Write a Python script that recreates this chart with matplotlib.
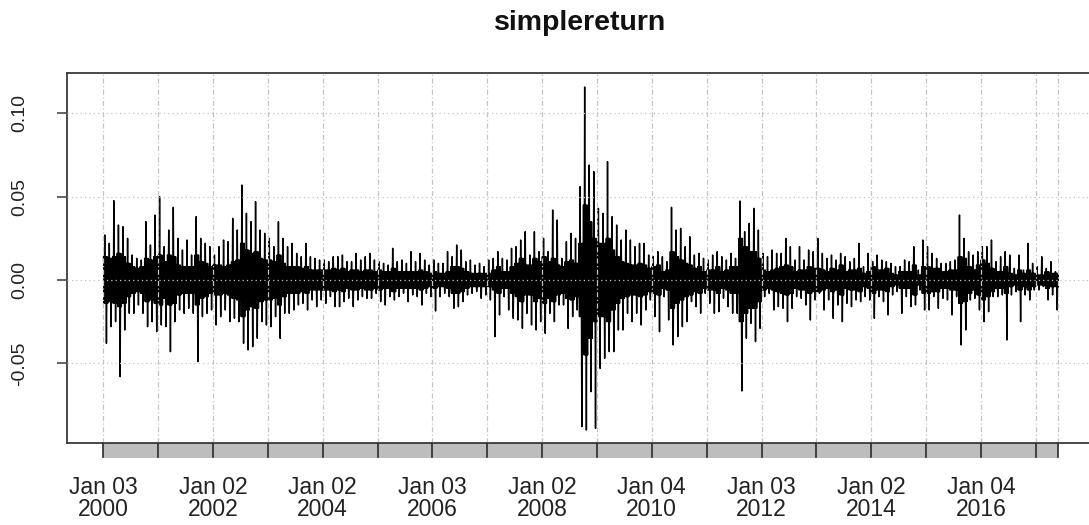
import matplotlib
matplotlib.use("Agg")
import matplotlib.pyplot as plt
from matplotlib.transforms import blended_transform_factory
from matplotlib.patches import Rectangle

# ---------------- data ----------------
start_year = 2000
# monthly highest and lowest daily simple return
max_2000 = [0.027, 0.022, 0.0476, 0.033, 0.032, 0.025, 0.015, 0.013, 0.012, 0.035, 0.021, 0.039]
min_2000 = [-0.038, -0.028, -0.025, -0.058, -0.030, -0.020, -0.020, -0.015, -0.020, -0.028, -0.025, -0.031]
max_2001 = [0.050, 0.020, 0.030, 0.0436, 0.025, 0.018, 0.024, 0.015, 0.038, 0.025, 0.022, 0.020]
min_2001 = [-0.027, -0.028, -0.043, -0.025, -0.018, -0.020, -0.017, -0.020, -0.049, -0.022, -0.020, -0.018]
max_2002 = [0.015, 0.020, 0.024, 0.023, 0.037, 0.030, 0.057, 0.040, 0.035, 0.047, 0.030, 0.028]
min_2002 = [-0.027, -0.022, -0.018, -0.025, -0.023, -0.025, -0.038, -0.042, -0.040, -0.035, -0.025, -0.027]
max_2003 = [0.025, 0.020, 0.035, 0.025, 0.020, 0.022, 0.016, 0.014, 0.022, 0.014, 0.013, 0.012]
min_2003 = [-0.028, -0.022, -0.035, -0.020, -0.020, -0.018, -0.015, -0.014, -0.018, -0.012, -0.016, -0.012]
max_2004 = [0.012, 0.011, 0.014, 0.014, 0.015, 0.011, 0.011, 0.016, 0.012, 0.014, 0.016, 0.012]
min_2004 = [-0.014, -0.010, -0.016, -0.016, -0.013, -0.011, -0.016, -0.012, -0.010, -0.011, -0.011, -0.008]
max_2005 = [0.011, 0.010, 0.009, 0.019, 0.011, 0.012, 0.010, 0.017, 0.011, 0.016, 0.012, 0.009]
min_2005 = [-0.013, -0.015, -0.010, -0.012, -0.010, -0.008, -0.013, -0.009, -0.010, -0.015, -0.008, -0.010]
max_2006 = [0.012, 0.010, 0.010, 0.017, 0.014, 0.021, 0.018, 0.011, 0.012, 0.009, 0.010, 0.008]
min_2006 = [-0.0186, -0.010, -0.008, -0.010, -0.017, -0.016, -0.013, -0.009, -0.008, -0.007, -0.011, -0.009]
max_2007 = [0.012, 0.013, 0.017, 0.013, 0.012, 0.019, 0.020, 0.024, 0.029, 0.015, 0.029, 0.017]
min_2007 = [-0.012, -0.034, -0.021, -0.010, -0.018, -0.023, -0.024, -0.029, -0.020, -0.027, -0.030, -0.025]
max_2008 = [0.025, 0.017, 0.042, 0.036, 0.013, 0.023, 0.028, 0.025, 0.056, 0.1158, 0.069, 0.065]
min_2008 = [-0.032, -0.020, -0.025, -0.015, -0.015, -0.029, -0.022, -0.018, -0.088, -0.090, -0.067, -0.089]
max_2009 = [0.043, 0.040, 0.071, 0.038, 0.033, 0.024, 0.030, 0.024, 0.020, 0.022, 0.022, 0.015]
min_2009 = [-0.053, -0.047, -0.043, -0.043, -0.030, -0.030, -0.020, -0.025, -0.020, -0.027, -0.018, -0.012]
max_2010 = [0.014, 0.017, 0.014, 0.011, 0.0436, 0.030, 0.031, 0.020, 0.026, 0.015, 0.016, 0.013]
min_2010 = [-0.022, -0.031, -0.010, -0.024, -0.039, -0.034, -0.028, -0.025, -0.013, -0.016, -0.020, -0.008]
max_2011 = [0.012, 0.015, 0.017, 0.014, 0.012, 0.016, 0.013, 0.0474, 0.029, 0.034, 0.043, 0.030]
min_2011 = [-0.014, -0.020, -0.019, -0.011, -0.016, -0.020, -0.020, -0.0666, -0.035, -0.026, -0.037, -0.029]
max_2012 = [0.016, 0.014, 0.018, 0.016, 0.016, 0.025, 0.020, 0.012, 0.020, 0.012, 0.018, 0.017]
min_2012 = [-0.010, -0.008, -0.018, -0.016, -0.017, -0.025, -0.017, -0.010, -0.011, -0.015, -0.024, -0.012]
max_2013 = [0.025, 0.016, 0.013, 0.015, 0.012, 0.016, 0.014, 0.011, 0.013, 0.022, 0.008, 0.016]
min_2013 = [-0.008, -0.018, -0.012, -0.023, -0.015, -0.025, -0.014, -0.016, -0.012, -0.013, -0.010, -0.012]
max_2014 = [0.011, 0.015, 0.012, 0.011, 0.010, 0.008, 0.008, 0.012, 0.011, 0.020, 0.006, 0.024]
min_2014 = [-0.023, -0.010, -0.013, -0.021, -0.009, -0.007, -0.020, -0.010, -0.016, -0.015, -0.006, -0.018]
max_2015 = [0.020, 0.016, 0.013, 0.010, 0.010, 0.011, 0.012, 0.039, 0.025, 0.017, 0.015, 0.017]
min_2015 = [-0.018, -0.010, -0.017, -0.011, -0.012, -0.021, -0.010, -0.039, -0.030, -0.012, -0.011, -0.018]
max_2016 = [0.020, 0.020, 0.024, 0.011, 0.014, 0.017, 0.015, 0.007, 0.015, 0.006, 0.022, 0.010]
min_2016 = [-0.025, -0.019, -0.010, -0.010, -0.009, -0.036, -0.009, -0.007, -0.025, -0.009, -0.012, -0.006]
max_2017 = [0.008, 0.014, 0.007, 0.011, 0.005]
min_2017 = [-0.006, -0.004, -0.012, -0.009, -0.018]

# half-width of the solid black band of ordinary days, per month
core_2000 = [0.014, 0.013, 0.014, 0.016, 0.014, 0.010, 0.008, 0.007, 0.008, 0.013, 0.012, 0.014]
core_2001 = [0.015, 0.011, 0.015, 0.014, 0.009, 0.008, 0.008, 0.008, 0.015, 0.011, 0.010, 0.008]
core_2002 = [0.009, 0.009, 0.008, 0.009, 0.011, 0.012, 0.022, 0.018, 0.016, 0.017, 0.013, 0.012]
core_2003 = [0.012, 0.011, 0.015, 0.010, 0.008, 0.008, 0.008, 0.007, 0.008, 0.006, 0.006, 0.006]
core_2004 = [0.006, 0.006, 0.007, 0.006, 0.007, 0.005, 0.006, 0.006, 0.005, 0.006, 0.006, 0.005]
core_2005 = [0.006, 0.005, 0.005, 0.007, 0.005, 0.005, 0.005, 0.005, 0.005, 0.006, 0.005, 0.004]
core_2006 = [0.005, 0.004, 0.004, 0.005, 0.008, 0.008, 0.007, 0.005, 0.004, 0.004, 0.004, 0.004]
core_2007 = [0.004, 0.006, 0.008, 0.005, 0.005, 0.008, 0.010, 0.013, 0.009, 0.009, 0.013, 0.011]
core_2008 = [0.014, 0.011, 0.013, 0.009, 0.008, 0.011, 0.012, 0.010, 0.022, 0.045, 0.035, 0.025]
core_2009 = [0.022, 0.022, 0.025, 0.018, 0.014, 0.011, 0.010, 0.009, 0.009, 0.010, 0.009, 0.007]
core_2010 = [0.008, 0.009, 0.005, 0.006, 0.017, 0.014, 0.012, 0.010, 0.009, 0.007, 0.008, 0.005]
core_2011 = [0.006, 0.006, 0.008, 0.005, 0.006, 0.008, 0.008, 0.025, 0.020, 0.017, 0.017, 0.013]
core_2012 = [0.006, 0.005, 0.006, 0.007, 0.008, 0.009, 0.008, 0.005, 0.006, 0.006, 0.008, 0.007]
core_2013 = [0.007, 0.006, 0.005, 0.007, 0.006, 0.009, 0.005, 0.006, 0.006, 0.007, 0.004, 0.005]
core_2014 = [0.008, 0.006, 0.006, 0.007, 0.004, 0.003, 0.005, 0.005, 0.005, 0.009, 0.003, 0.008]
core_2015 = [0.008, 0.007, 0.007, 0.005, 0.005, 0.006, 0.006, 0.014, 0.013, 0.008, 0.006, 0.009]
core_2016 = [0.012, 0.010, 0.007, 0.005, 0.005, 0.008, 0.004, 0.003, 0.006, 0.004, 0.006, 0.004]
core_2017 = [0.003, 0.003, 0.005, 0.004, 0.004]

monthly_max = (max_2000 + max_2001 + max_2002 + max_2003 + max_2004 + max_2005 + max_2006
               + max_2007 + max_2008 + max_2009 + max_2010 + max_2011 + max_2012 + max_2013
               + max_2014 + max_2015 + max_2016 + max_2017)
monthly_min = (min_2000 + min_2001 + min_2002 + min_2003 + min_2004 + min_2005 + min_2006
               + min_2007 + min_2008 + min_2009 + min_2010 + min_2011 + min_2012 + min_2013
               + min_2014 + min_2015 + min_2016 + min_2017)
monthly_core = (core_2000 + core_2001 + core_2002 + core_2003 + core_2004 + core_2005 + core_2006
                + core_2007 + core_2008 + core_2009 + core_2010 + core_2011 + core_2012 + core_2013
                + core_2014 + core_2015 + core_2016 + core_2017)

tick_years = list(range(2000, 2018))
label_years = [2000, 2002, 2004, 2006, 2008, 2010, 2012, 2014, 2016]
label_days = ["Jan 03", "Jan 02", "Jan 02", "Jan 03", "Jan 02", "Jan 04", "Jan 03", "Jan 02", "Jan 04"]
y_ticks = [-0.05, 0.00, 0.05, 0.10]
y_labels = ["-0.05", "0.00", "0.05", "0.10"]
title = "simplereturn"

# ---------------- build the line: strokes across the core plus each month's extremes ----
xs, ys = [], []
for m, (hi, lo, c) in enumerate(zip(monthly_max, monthly_min, monthly_core)):
    cu, cl = min(c, hi), max(-c, lo)
    seq = [cu, cl, hi, cl, cu, lo, cu, cl]
    n = len(seq)
    for k, v in enumerate(seq):
        xs.append(start_year + (m + (k + 0.5) / n) / 12.0)
        ys.append(v)
x_first = start_year
x_last = xs[-1]

# ---------------- figure ----------------
W, H = 1089, 525
plt.rcParams["font.family"] = ["Liberation Sans", "DejaVu Sans"]
fig = plt.figure(figsize=(W / 100, H / 100), dpi=100)
fig.patch.set_facecolor("white")
ax_l, ax_r, ax_t, ax_b = 67, 1093, 73, 443
ax = fig.add_axes([ax_l / W, 1 - ax_b / H, (ax_r - ax_l) / W, (ax_b - ax_t) / H])

px_per_year = 54.85
x0_px = 103.3
ax.set_xlim(start_year - (x0_px - ax_l) / px_per_year, start_year + (ax_r - x0_px) / px_per_year)
ax.set_ylim(-0.0978, 0.1242)

ax.plot(xs, ys, color="black", lw=1.05, zorder=2)

grid_col = "#c4c4c4"
for yv in y_ticks:
    ax.axhline(yv, color=grid_col, lw=0.9, ls=(0, (1, 2.5)), zorder=3)
for xv in tick_years + [x_last]:
    ax.axvline(xv, color=grid_col, lw=0.9, ls=(0, (4, 2, 1, 2)), zorder=3)

for s in ax.spines.values():
    s.set_color("#3a3a3a")
    s.set_linewidth(1.3)
ax.set_xticks([])
ax.set_yticks(y_ticks)
ax.set_yticklabels([])
ax.tick_params(axis="y", length=7, width=1.1, color="#3a3a3a", direction="out")

# y tick labels (rotated, as in R)
ty = blended_transform_factory(fig.transFigure, ax.transData)
for yv, lab in zip(y_ticks, y_labels):
    fig.text(20 / W, yv, lab, transform=ty, rotation=90, ha="center", va="center",
             fontsize=14, color="#222222")

# grey time bar below the plot
bx = blended_transform_factory(ax.transData, ax.transAxes)
bar_h = 15 / (ax_b - ax_t)
ax.add_patch(Rectangle((x_first, -bar_h), x_last - x_first, bar_h, transform=bx,
                       facecolor="#bdbdbd", edgecolor="none", clip_on=False, zorder=1))
for xv in tick_years + [x_last]:
    ax.plot([xv, xv], [0, -0.9 * bar_h], transform=bx, color="#2a2a2a", lw=1.2,
            clip_on=False, zorder=4)

# x labels (two lines each)
tx = blended_transform_factory(ax.transData, fig.transFigure)
for yr, day in zip(label_years, label_days):
    fig.text(yr, 1 - 476 / H, f"{day}\n{yr}", transform=tx, ha="center", va="top",
             fontsize=16.5, linespacing=0.95, color="#222222", multialignment="center")

fig.text(580 / W, 1 - 23 / H, title, ha="center", va="center", fontsize=20.5,
         fontweight="bold", color="#111111")

fig.savefig("out.png", dpi=100, facecolor="white")
